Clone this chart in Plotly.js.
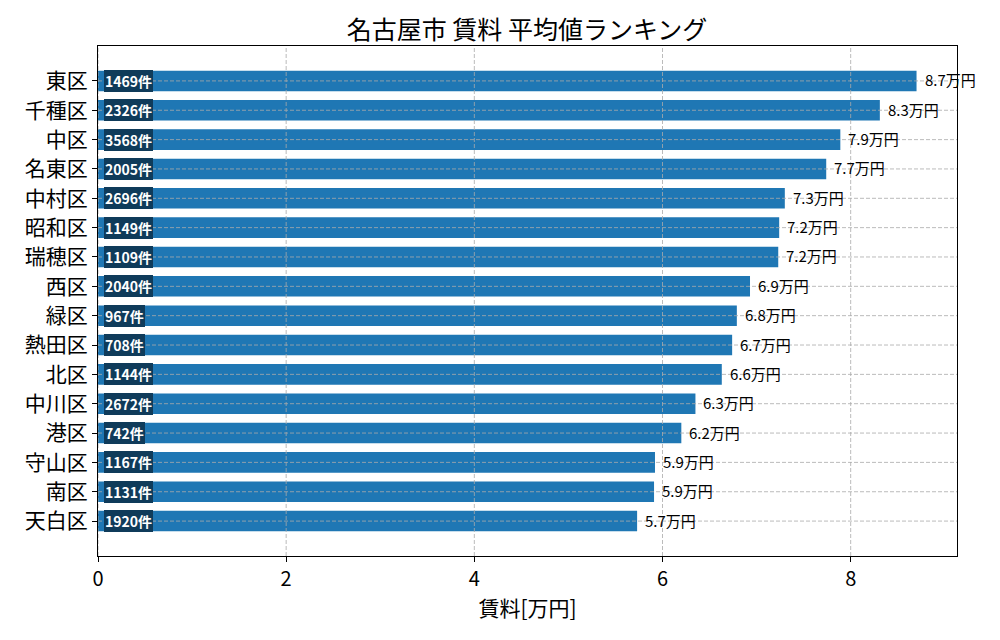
<!DOCTYPE html>
<html>
<head>
<meta charset="utf-8">
<script src="https://cdn.plot.ly/plotly-3.0.1.min.js"></script>
<style>body{margin:0;background:#fff}#chart{width:1000px;height:640px}</style>
</head>
<body>
<div id="chart"></div>
<script>
// 区ごとの平均賃料 (万円) と物件数
var wards = ["東区", "千種区", "中区", "名東区", "中村区", "昭和区", "瑞穂区", "西区",
             "緑区", "熱田区", "北区", "中川区", "港区", "守山区", "南区", "天白区"];
var avgRent = [8.70, 8.31, 7.89, 7.74, 7.30, 7.24, 7.23, 6.93,
               6.79, 6.74, 6.63, 6.35, 6.20, 5.92, 5.91, 5.73];
var counts = [1469, 2326, 3568, 2005, 2696, 1149, 1109, 2040,
              967, 708, 1144, 2672, 742, 1167, 1131, 1920];
var xTicks = [0, 2, 4, 6, 8];

var font = '"Noto Sans CJK JP", "Noto Sans", sans-serif';
var gridCol = 'rgba(170,170,170,0.8)';

var trace = {
  type: 'bar',
  orientation: 'h',
  x: avgRent,
  y: wards,
  width: 0.7,
  marker: {color: '#1f77b4'},
  hoverinfo: 'x+y'
};

var annotations = [];
var shapes = [];
wards.forEach(function (w, i) {
  annotations.push({
    x: avgRent[i], y: w, xref: 'x', yref: 'y',
    text: avgRent[i].toFixed(1) + '万円',
    showarrow: false, xanchor: 'left', xshift: 6, yshift: 1,
    font: {family: font, size: 15, color: '#000'}
  });
  annotations.push({
    x: 0, y: w, xref: 'x', yref: 'y',
    text: '<b>' + counts[i] + '件</b>',
    showarrow: false, xanchor: 'left', xshift: 6, yshift: 0,
    bgcolor: '#0f3b5a', borderwidth: 0, borderpad: 1,
    font: {family: font, size: 14, color: '#fff'}
  });
  // horizontal grid above bars
  shapes.push({
    type: 'line', layer: 'above', xref: 'paper', yref: 'y',
    x0: 0, x1: 1, y0: w, y1: w,
    line: {color: gridCol, width: 1, dash: '4px,2px'}
  });
});
xTicks.forEach(function (t) {
  shapes.push({
    type: 'line', layer: 'above', xref: 'x', yref: 'paper',
    x0: t, x1: t, y0: 0, y1: 1,
    line: {color: gridCol, width: 1, dash: '4px,2px'}
  });
});

var layout = {
  width: 1000,
  height: 640,
  margin: {l: 98, r: 43, t: 46, b: 84},
  paper_bgcolor: '#fff',
  plot_bgcolor: '#fff',
  font: {family: font, color: '#000'},
  showlegend: false,
  title: {
    text: '名古屋市 賃料 平均値ランキング',
    x: 0.527, xanchor: 'center', y: 0.953, yanchor: 'middle',
    font: {family: font, size: 25, color: '#000'}
  },
  xaxis: {
    range: [0, 9.13],
    tickvals: xTicks,
    ticks: 'outside', ticklen: 5, tickcolor: '#000',
    showgrid: false, zeroline: false,
    showline: true, mirror: true, linecolor: '#000', linewidth: 1,
    tickfont: {family: font, size: 20},
    title: {text: '賃料[万円]', font: {family: font, size: 21}, standoff: 8}
  },
  yaxis: {
    type: 'category',
    categoryorder: 'array', categoryarray: wards,
    range: [16.19, -1.19],
    ticks: 'outside', ticklen: 5, tickcolor: '#000',
    showgrid: false, zeroline: false,
    showline: true, mirror: true, linecolor: '#000', linewidth: 1,
    tickfont: {family: font, size: 21}
  },
  annotations: annotations,
  shapes: shapes
};

Plotly.newPlot('chart', [trace], layout, {displayModeBar: false, staticPlot: true});
</script>
</body>
</html>
